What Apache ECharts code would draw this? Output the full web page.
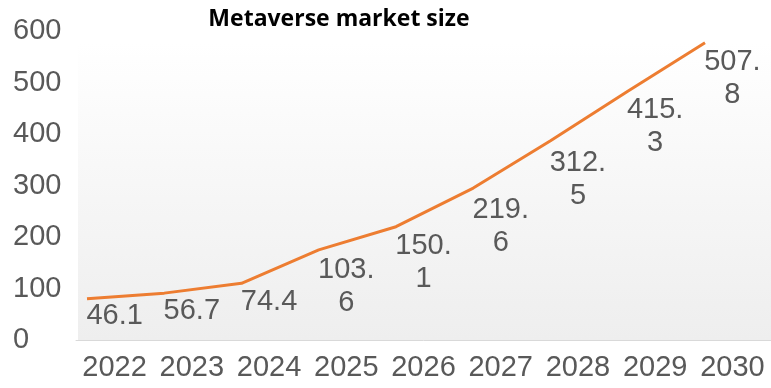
<!DOCTYPE html>
<html>
<head>
<meta charset="utf-8">
<script src="https://cdn.jsdelivr.net/npm/echarts@6/dist/echarts.min.js"></script>
<style>
  html, body { margin: 0; padding: 0; background: #ffffff; }
  #chart { width: 771px; height: 388px; }
</style>
</head>
<body>
<div id="chart"></div>
<script>
// Years on the horizontal axis
const years = ['2022', '2023', '2024', '2025', '2026', '2027', '2028', '2029', '2030'];
// Stated market size per year (data labels)
const marketSize = [46.1, 56.7, 74.4, 103.6, 150.1, 219.6, 312.5, 415.3, 507.8];
// Orange trend line
const trendLine = [80, 91, 110, 175, 220, 295, 387, 483, 577];
// Value axis ticks
const yTicks = [0, 100, 200, 300, 400, 500, 600];

const chart = echarts.init(document.getElementById('chart'), null, { renderer: 'canvas' });

const labelColor = '#595959';
const numFont = 'Liberation Sans, Arial, sans-serif';

chart.setOption({
  animation: false,
  backgroundColor: '#ffffff',
  title: {
    text: 'Metaverse market size',
    left: 334,
    top: 3,
    textAlign: 'center',
    textStyle: { fontFamily: 'Open Sans', fontWeight: 'bold', fontSize: 23, color: '#000000' }
  },
  graphic: [{
    type: 'rect',
    z: -10,
    silent: true,
    shape: { x: 78, y: 42, width: 693, height: 298 },
    style: {
      fill: new echarts.graphic.LinearGradient(0, 0, 0, 1, [
        { offset: 0, color: '#ffffff' },
        { offset: 1, color: '#eeeeee' }
      ])
    }
  }],
  grid: [
    { left: 76, width: 698, top: 31, bottom: 48 },
    { left: 87, right: 66, top: 31, bottom: 48 }
  ],
  xAxis: [
    {
      type: 'category',
      gridIndex: 0,
      data: years,
      boundaryGap: true,
      axisLine: { show: true, lineStyle: { color: '#d9d9d9', width: 1 } },
      axisTick: { show: false },
      axisLabel: { interval: 0, hideOverlap: false, color: labelColor, fontFamily: numFont, fontSize: 29, margin: 13 }
    },
    {
      type: 'category',
      gridIndex: 1,
      data: years,
      boundaryGap: false,
      show: false
    }
  ],
  yAxis: [
    {
      type: 'value',
      gridIndex: 0,
      min: yTicks[0],
      max: yTicks[yTicks.length - 1],
      interval: 100,
      axisLine: { show: false },
      axisTick: { show: false },
      splitLine: { show: false },
      axisLabel: { color: labelColor, fontFamily: numFont, fontSize: 29, align: 'left', margin: 63 }
    },
    {
      type: 'value',
      gridIndex: 1,
      min: yTicks[0],
      max: yTicks[yTicks.length - 1],
      show: false
    }
  ],
  series: [
    {
      name: 'Trend',
      type: 'line',
      xAxisIndex: 1,
      yAxisIndex: 1,
      data: trendLine,
      symbol: 'none',
      smooth: false,
      lineStyle: { color: '#ed7d31', width: 3 },
      z: 3
    },
    {
      name: 'Market size',
      type: 'line',
      xAxisIndex: 0,
      yAxisIndex: 0,
      data: marketSize,
      symbol: 'circle',
      symbolSize: 2,
      showSymbol: true,
      itemStyle: { color: 'rgba(0,0,0,0)' },
      lineStyle: { width: 0, color: 'rgba(0,0,0,0)' },
      label: {
        show: true,
        position: 'inside',
        color: labelColor,
        fontFamily: numFont,
        fontSize: 29,
        lineHeight: 33,
        align: 'center',
        verticalAlign: 'middle',
        formatter: function (p) {
          const s = p.value.toFixed(1);
          return s.length > 4 ? s.replace('.', '.\n') : s;
        }
      },
      labelLayout: { hideOverlap: false },
      z: 4
    }
  ]
});
</script>
</body>
</html>
